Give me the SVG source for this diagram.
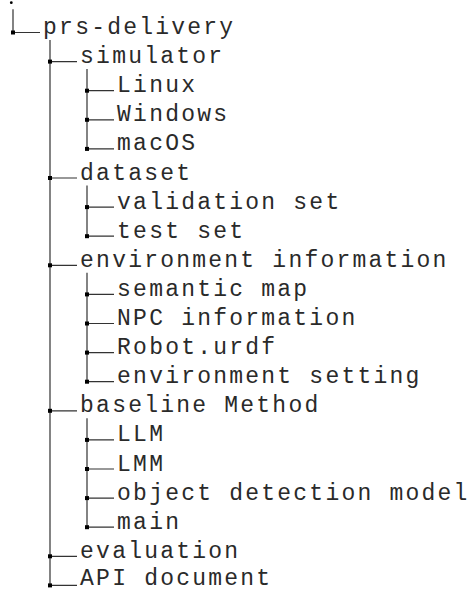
<svg xmlns="http://www.w3.org/2000/svg" width="469" height="590" viewBox="0 0 469 590">
<style>
text{font-family:"Liberation Mono","DejaVu Sans Mono",monospace;font-size:23px;letter-spacing:2.22px;fill:#2a2a2a}
.ln{stroke:#333;stroke-width:1.2;fill:none}
.sq{fill:#000}
</style>
<defs>
<rect id="s" class="sq" x="-2" y="-2" width="4" height="4"/>
</defs>
<rect width="469" height="590" fill="#fff"/>
<g id="connectors">
<circle cx="11.3" cy="2.7" r="1.4" fill="#000"/>
<path class="ln" d="M13 9.3V32.5H40M50 40V585.4M87 69V148.9M87 185.5V236.2M87 272.8V381.7M87 418.3V527.2"/>
<path class="ln" d="M50 61.6H77M50 178H77M50 265.3H77M50 410.8H77M50 556.3H77M50 585.4H77"/>
<path class="ln" d="M87 90.7H114M87 119.8H114M87 148.9H114M87 207.1H114M87 236.2H114M87 294.4H114M87 323.5H114M87 352.6H114M87 381.7H114M87 439.9H114M87 469H114M87 498.1H114M87 527.2H114"/>
<use href="#s" x="13" y="32.5"/>
<use href="#s" x="50" y="61.6"/><use href="#s" x="50" y="178"/><use href="#s" x="50" y="265.3"/><use href="#s" x="50" y="410.8"/><use href="#s" x="50" y="556.3"/><use href="#s" x="50" y="585.4"/>
<use href="#s" x="87" y="90.7"/><use href="#s" x="87" y="119.8"/><use href="#s" x="87" y="148.9"/><use href="#s" x="87" y="207.1"/><use href="#s" x="87" y="236.2"/><use href="#s" x="87" y="294.4"/><use href="#s" x="87" y="323.5"/><use href="#s" x="87" y="352.6"/><use href="#s" x="87" y="381.7"/><use href="#s" x="87" y="439.9"/><use href="#s" x="87" y="469"/><use href="#s" x="87" y="498.1"/><use href="#s" x="87" y="527.2"/>
</g>
<g id="prs-delivery"><text x="43.1" y="34">prs-delivery</text></g>
<g id="simulator"><text x="80.1" y="63.1">simulator</text></g>
<g id="linux"><text x="117.1" y="92.2">Linux</text></g>
<g id="windows"><text x="117.1" y="121.3">Windows</text></g>
<g id="macos"><text x="117.1" y="150.4">macOS</text></g>
<g id="dataset"><text x="80.1" y="179.5">dataset</text></g>
<g id="validation-set"><text x="117.1" y="208.6">validation set</text></g>
<g id="test-set"><text x="117.1" y="237.7">test set</text></g>
<g id="environment-information"><text x="80.1" y="266.8">environment information</text></g>
<g id="semantic-map"><text x="117.1" y="295.9">semantic map</text></g>
<g id="npc-information"><text x="117.1" y="325">NPC information</text></g>
<g id="robot-urdf"><text x="117.1" y="354.1">Robot.urdf</text></g>
<g id="environment-setting"><text x="117.1" y="383.2">environment setting</text></g>
<g id="baseline-method"><text x="80.1" y="412.3">baseline Method</text></g>
<g id="llm"><text x="117.1" y="441.4">LLM</text></g>
<g id="lmm"><text x="117.1" y="470.5">LMM</text></g>
<g id="object-detection-model"><text x="117.1" y="499.6">object detection model</text></g>
<g id="main"><text x="117.1" y="528.7">main</text></g>
<g id="evaluation"><text x="80.1" y="557.8">evaluation</text></g>
<g id="api-document"><text x="80.1" y="584.6">API document</text></g>
</svg>
